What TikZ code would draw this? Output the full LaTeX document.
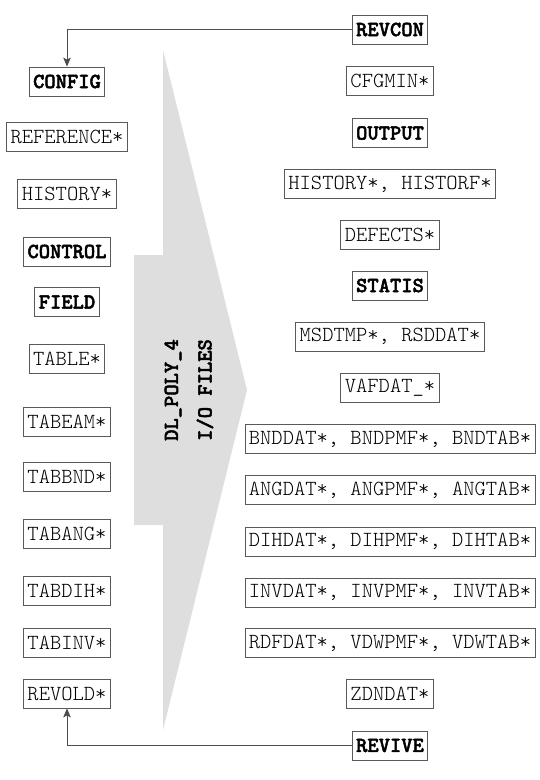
\documentclass[tikz,border=0pt]{standalone}
\usepackage{fontspec}
\newfontfamily\lighttt{lmmonolt10-regular}[Extension=.otf]
\newfontfamily\heavytt{lmmonolt10-bold}[Extension=.otf,FakeBold=2]
\usetikzlibrary{arrows.meta}
\begin{document}
\begin{tikzpicture}[x=1pt,y=-1pt,
  file/.style={draw=black!65,line width=0.8pt,inner xsep=4pt,inner ysep=0pt,minimum height=29pt,font=\fontsize{21.5}{22}\selectfont\lighttt},
  core/.style={file,font=\fontsize{21.5}{22}\selectfont\heavytt},
  link/.style={draw=black!70,line width=0.9pt,-{Stealth[length=9pt,width=7.5pt,inset=2pt]}}]
\useasboundingbox (0,0) rectangle (540,780);
% the big arrow
\fill[black!13] (163,50) -- (247,390) -- (163,730) -- (163,525) -- (134,525) -- (134,255) -- (163,255) -- cycle;
\node[rotate=90,font=\fontsize{21.5}{22}\selectfont\heavytt] (dlpoly) at (173,390) {DL\_POLY\_4};
\node[rotate=90,font=\fontsize{21.5}{22}\selectfont\heavytt] (iofiles) at (205,390) {I/O FILES};
% input files
\node[core] (config) at (67,81.5) {CONFIG};
\node[file] (reference) at (67,137) {REFERENCE*};
\node[file] (histin) at (67,194) {HISTORY*};
\node[core] (control) at (67,251.5) {CONTROL};
\node[core] (field) at (67,302) {FIELD};
\node[file] (table) at (67,359) {TABLE*};
\node[file] (tabeam) at (67,421.5) {TABEAM*};
\node[file] (tabbnd) at (67,477) {TABBND*};
\node[file] (tabang) at (67,534) {TABANG*};
\node[file] (tabdih) at (67,590.5) {TABDIH*};
\node[file] (tabinv) at (67,642.5) {TABINV*};
\node[file] (revold) at (67,693.5) {REVOLD*};
% output files
\node[core] (revcon) at (390,29.5) {REVCON};
\node[file] (cfgmin) at (390,81) {CFGMIN*};
\node[core] (output) at (390,133) {OUTPUT};
\node[file] (histout) at (390,184) {HISTORY*, HISTORF*};
\node[file] (defects) at (390,234.5) {DEFECTS*};
\node[core] (statis) at (390,285.5) {STATIS};
\node[file] (msdtmp) at (390,336.5) {MSDTMP*, RSDDAT*};
\node[file] (vafdat) at (390,388) {VAFDAT\_*};
\node[file] (bnddat) at (390,439) {BNDDAT*, BNDPMF*, BNDTAB*};
\node[file] (angdat) at (390,490) {ANGDAT*, ANGPMF*, ANGTAB*};
\node[file] (dihdat) at (390,541.5) {DIHDAT*, DIHPMF*, DIHTAB*};
\node[file] (invdat) at (390,592.5) {INVDAT*, INVPMF*, INVTAB*};
\node[file] (rdfdat) at (390,643) {RDFDAT*, VDWPMF*, VDWTAB*};
\node[file] (zdndat) at (390,694) {ZDNDAT*};
\node[core] (revive) at (390,745.5) {REVIVE};
% restart loops
\draw[link] (revcon.west) -| (config.north);
\draw[link] (revive.west) -| (revold.south);
\end{tikzpicture}
\end{document}
